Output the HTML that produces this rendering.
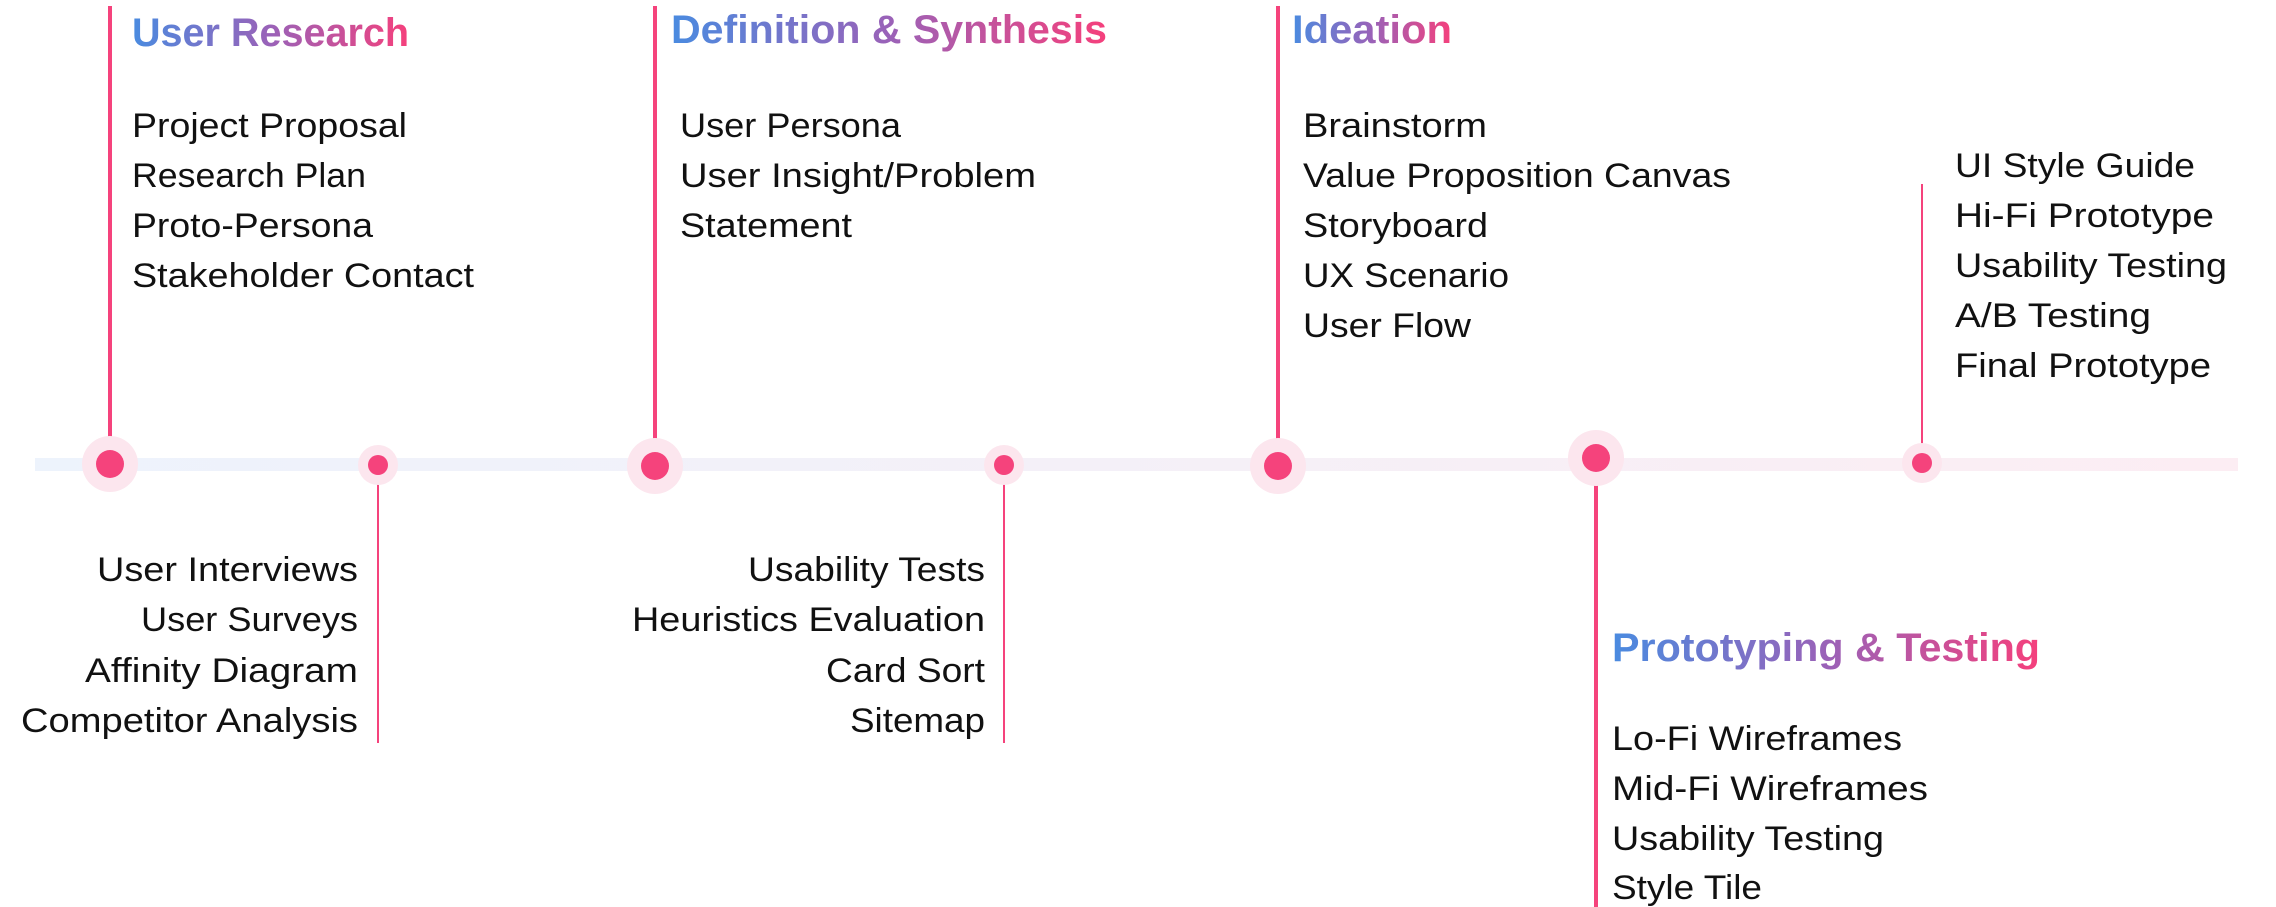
<!DOCTYPE html>
<html><head><meta charset="utf-8"><style>
html,body{margin:0;padding:0;background:#fff;}
svg{display:block;}
text{font-family:"Liberation Sans",sans-serif;}
.b{font-size:34px;fill:#111;}
.h{font-size:40px;font-weight:bold;}
</style></head><body>
<svg width="2276" height="907" viewBox="0 0 2276 907" xmlns="http://www.w3.org/2000/svg">
<defs>
<linearGradient id="g" x1="0" y1="0" x2="1" y2="0">
<stop offset="0" stop-color="#4a8be0"/><stop offset="0.5" stop-color="#9a62b8"/><stop offset="1" stop-color="#f5407c"/>
</linearGradient>
<linearGradient id="bar" x1="0" y1="0" x2="1" y2="0">
<stop offset="0" stop-color="#edf3fc"/><stop offset="1" stop-color="#fcedf3"/>
</linearGradient>
</defs>
<rect x="35" y="458" width="2203" height="13" fill="url(#bar)"/>
<!-- vertical lines -->
<g stroke="#f5437c">
<line x1="110" y1="6" x2="110" y2="464" stroke-width="4"/>
<line x1="655" y1="6" x2="655" y2="464" stroke-width="4"/>
<line x1="1278" y1="6" x2="1278" y2="464" stroke-width="4"/>
<line x1="1596" y1="458" x2="1596" y2="907" stroke-width="4"/>
<line x1="378" y1="464" x2="378" y2="743" stroke-width="2"/>
<line x1="1004" y1="464" x2="1004" y2="743" stroke-width="2"/>
<line x1="1922" y1="184" x2="1922" y2="464" stroke-width="2"/>
</g>
<!-- dots -->
<g>
<circle cx="110" cy="464" r="28" fill="#fce6ee"/><circle cx="110" cy="464" r="14" fill="#f5437c"/>
<circle cx="655" cy="466" r="28" fill="#fce6ee"/><circle cx="655" cy="466" r="14" fill="#f5437c"/>
<circle cx="1278" cy="466" r="28" fill="#fce6ee"/><circle cx="1278" cy="466" r="14" fill="#f5437c"/>
<circle cx="1596" cy="458" r="28" fill="#fce6ee"/><circle cx="1596" cy="458" r="14" fill="#f5437c"/>
<circle cx="378" cy="465" r="20" fill="#fce6ee"/><circle cx="378" cy="465" r="10" fill="#f5437c"/>
<circle cx="1004" cy="465" r="20" fill="#fce6ee"/><circle cx="1004" cy="465" r="10" fill="#f5437c"/>
<circle cx="1922" cy="463" r="20" fill="#fce6ee"/><circle cx="1922" cy="463" r="10" fill="#f5437c"/>
</g>
<!-- headings -->
<text class="h" x="132" y="46" fill="url(#g)" textLength="277" lengthAdjust="spacingAndGlyphs">User Research</text>
<text class="h" x="671" y="43" fill="url(#g)" textLength="436" lengthAdjust="spacingAndGlyphs">Definition &amp; Synthesis</text>
<text class="h" x="1292" y="43" fill="url(#g)" textLength="160" lengthAdjust="spacingAndGlyphs">Ideation</text>
<text class="h" x="1612" y="661" fill="url(#g)" textLength="428" lengthAdjust="spacingAndGlyphs">Prototyping &amp; Testing</text>
<!-- User research items -->
<g class="b">
<text x="132" y="137" textLength="275" lengthAdjust="spacingAndGlyphs">Project Proposal</text>
<text x="132" y="187" textLength="234" lengthAdjust="spacingAndGlyphs">Research Plan</text>
<text x="132" y="237" textLength="241" lengthAdjust="spacingAndGlyphs">Proto-Persona</text>
<text x="132" y="287" textLength="342" lengthAdjust="spacingAndGlyphs">Stakeholder Contact</text>

<text x="680" y="137" textLength="221" lengthAdjust="spacingAndGlyphs">User Persona</text>
<text x="680" y="187" textLength="356" lengthAdjust="spacingAndGlyphs">User Insight/Problem</text>
<text x="680" y="237" textLength="172" lengthAdjust="spacingAndGlyphs">Statement</text>

<text x="1303" y="137" textLength="184" lengthAdjust="spacingAndGlyphs">Brainstorm</text>
<text x="1303" y="187" textLength="428" lengthAdjust="spacingAndGlyphs">Value Proposition Canvas</text>
<text x="1303" y="237" textLength="185" lengthAdjust="spacingAndGlyphs">Storyboard</text>
<text x="1303" y="287" textLength="206" lengthAdjust="spacingAndGlyphs">UX Scenario</text>
<text x="1303" y="337" textLength="168" lengthAdjust="spacingAndGlyphs">User Flow</text>

<text x="1955" y="177" textLength="240" lengthAdjust="spacingAndGlyphs">UI Style Guide</text>
<text x="1955" y="227" textLength="259" lengthAdjust="spacingAndGlyphs">Hi-Fi Prototype</text>
<text x="1955" y="277" textLength="272" lengthAdjust="spacingAndGlyphs">Usability Testing</text>
<text x="1955" y="327" textLength="196" lengthAdjust="spacingAndGlyphs">A/B Testing</text>
<text x="1955" y="377" textLength="256" lengthAdjust="spacingAndGlyphs">Final Prototype</text>

<text x="97" y="581" textLength="261" lengthAdjust="spacingAndGlyphs">User Interviews</text>
<text x="141" y="631" textLength="217" lengthAdjust="spacingAndGlyphs">User Surveys</text>
<text x="85" y="682" textLength="273" lengthAdjust="spacingAndGlyphs">Affinity Diagram</text>
<text x="21" y="732" textLength="337" lengthAdjust="spacingAndGlyphs">Competitor Analysis</text>

<text x="748" y="581" textLength="237" lengthAdjust="spacingAndGlyphs">Usability Tests</text>
<text x="632" y="631" textLength="353" lengthAdjust="spacingAndGlyphs">Heuristics Evaluation</text>
<text x="826" y="682" textLength="159" lengthAdjust="spacingAndGlyphs">Card Sort</text>
<text x="850" y="732" textLength="135" lengthAdjust="spacingAndGlyphs">Sitemap</text>

<text x="1612" y="750" textLength="290" lengthAdjust="spacingAndGlyphs">Lo-Fi Wireframes</text>
<text x="1612" y="800" textLength="316" lengthAdjust="spacingAndGlyphs">Mid-Fi Wireframes</text>
<text x="1612" y="850" textLength="272" lengthAdjust="spacingAndGlyphs">Usability Testing</text>
<text x="1612" y="899" textLength="150" lengthAdjust="spacingAndGlyphs">Style Tile</text>
</g>
</svg>
</body></html>
